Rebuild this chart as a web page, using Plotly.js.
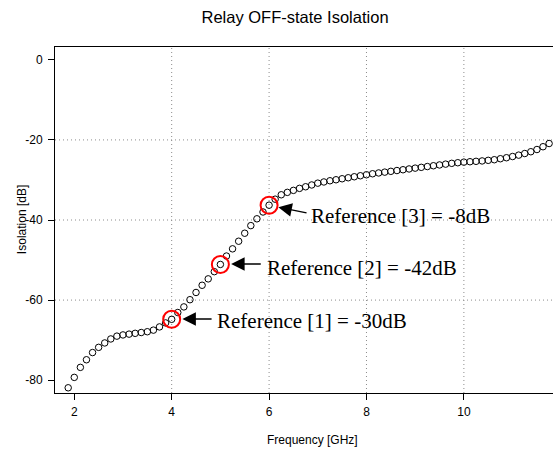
<!DOCTYPE html>
<html>
<head>
<meta charset="utf-8">
<script src="https://cdn.plot.ly/plotly-3.0.1.min.js"></script>
<style>html,body{margin:0;padding:0;background:#fff;}#chart{width:553px;height:451px;}</style>
</head>
<body>
<div id="chart"></div>
<script>
// Frequency [GHz]
const freq = [1.875,2.000,2.125,2.250,2.375,2.500,2.625,2.750,2.875,3.000,
  3.125,3.250,3.375,3.500,3.625,3.750,3.875,4.000,4.125,4.250,
  4.375,4.500,4.625,4.750,4.875,5.000,5.125,5.250,5.375,5.500,
  5.625,5.750,5.875,6.000,6.125,6.250,6.375,6.500,6.625,6.750,
  6.875,7.000,7.125,7.250,7.375,7.500,7.625,7.750,7.875,8.000,
  8.125,8.250,8.375,8.500,8.625,8.750,8.875,9.000,9.125,9.250,
  9.375,9.500,9.625,9.750,9.875,10.000,10.125,10.250,10.375,10.500,
  10.625,10.750,10.875,11.000,11.125,11.250,11.375,11.500,11.625,11.750];
// Isolation [dB]
const isolation = [-81.9,-79.3,-76.8,-74.9,-73.1,-71.8,-70.7,-69.7,-69.0,-68.7,
  -68.5,-68.3,-68.1,-67.9,-67.5,-66.7,-65.7,-64.8,-63.1,-61.7,
  -59.9,-58.1,-56.3,-54.7,-52.9,-51.1,-49.0,-47.2,-45.3,-43.3,
  -41.4,-39.7,-38.0,-36.3,-34.8,-33.7,-33.1,-32.6,-32.1,-31.7,
  -31.25,-30.8,-30.5,-30.2,-29.95,-29.7,-29.45,-29.2,-28.95,-28.7,
  -28.45,-28.25,-28.05,-27.85,-27.65,-27.45,-27.25,-27.05,-26.85,-26.65,
  -26.45,-26.25,-26.05,-25.85,-25.7,-25.55,-25.45,-25.35,-25.25,-25.1,
  -24.95,-24.7,-24.45,-24.15,-23.8,-23.4,-22.95,-22.4,-21.7,-20.9];
// Reference markers
const refFreq = [4, 5, 6];
const refIso = [-64.8, -51.1, -36.3];
const refLabels = ["Reference [1] = -30dB", "Reference [2] = -42dB", "Reference [3] = -8dB"];
// Arrow head / tail / label anchors (data coords)
const arrowHeadX = [4.22, 5.22, 6.19];
const arrowHeadY = [-64.75, -51.0, -36.8];
const arrowTailX = [4.85, 5.86, 6.80];
const arrowTailY = [-64.75, -51.0, -38.3];
const labelX = [4.88, 5.91, 6.82];
const labelY = [-65.2, -52.0, -39.0];
// Grid positions
const gridX = [4, 6, 8, 10];
const gridY = [-20, -40, -60];
const xTicks = [2, 4, 6, 8, 10];
const yTicks = [0, -20, -40, -60, -80];

const traces = [
  {x: freq, y: isolation, type: 'scatter', mode: 'markers',
   marker: {symbol: 'circle-open', size: 6.5, color: '#000', line: {width: 1, color: '#000'}},
   hoverinfo: 'x+y', showlegend: false},
  {x: refFreq, y: refIso, type: 'scatter', mode: 'markers',
   marker: {symbol: 'circle-open', size: 17, color: '#ff0000', line: {width: 2, color: '#ff0000'}},
   showlegend: false}
];

const shapes = [];
gridX.forEach(v => shapes.push({type: 'line', xref: 'x', yref: 'paper', x0: v, x1: v, y0: 0, y1: 1,
  layer: 'below', line: {color: '#8c8c8c', width: 1, dash: '1px,3px'}}));
gridY.forEach(v => shapes.push({type: 'line', xref: 'paper', yref: 'y', x0: 0, x1: 1, y0: v, y1: v,
  layer: 'below', line: {color: '#8c8c8c', width: 1, dash: '1px,3px'}}));

const annotations = [];
for (let i = 0; i < refFreq.length; i++) {
  annotations.push({x: arrowHeadX[i], y: arrowHeadY[i], xref: 'x', yref: 'y',
    ax: arrowTailX[i], ay: arrowTailY[i], axref: 'x', ayref: 'y', text: '',
    showarrow: true, arrowhead: 2, arrowsize: 1.8, arrowwidth: 1.5, arrowcolor: '#000'});
  annotations.push({x: labelX[i], y: labelY[i], xref: 'x', yref: 'y', text: refLabels[i],
    showarrow: false, xanchor: 'left', yanchor: 'middle',
    font: {family: 'Liberation Serif, Times New Roman, serif', size: 21, color: '#000'}});
}
annotations.push({text: 'Frequency [GHz]', xref: 'paper', yref: 'paper', x: 0.518, y: -0.136,
  xanchor: 'center', yanchor: 'middle', showarrow: false,
  font: {family: 'Liberation Sans, Arial, sans-serif', size: 12, color: '#000'}});
annotations.push({text: 'Isolation [dB]', xref: 'paper', yref: 'paper', x: -0.066, y: 0.5,
  xanchor: 'center', yanchor: 'middle', textangle: -90, showarrow: false,
  font: {family: 'Liberation Sans, Arial, sans-serif', size: 12, color: '#000'}});

const layout = {
  width: 553, height: 451,
  margin: {l: 55, r: 0, t: 47, b: 58, pad: 0},
  paper_bgcolor: '#fff', plot_bgcolor: '#fff',
  title: {text: 'Relay OFF-state Isolation', xref: 'container', yref: 'container',
    x: 0.5335, y: 0.962, xanchor: 'center', yanchor: 'middle',
    font: {family: 'Liberation Sans, Arial, sans-serif', size: 16.5, color: '#000'}},
  xaxis: {range: [1.604, 11.83], tickvals: xTicks, ticktext: xTicks.map(String),
    ticks: 'outside', ticklen: 6, tickwidth: 1, tickcolor: '#000',
    showline: true, linecolor: '#000', linewidth: 1, mirror: true,
    showgrid: false, zeroline: false, ticklabelstandoff: 2,
    tickfont: {family: 'Liberation Sans, Arial, sans-serif', size: 12, color: '#000'}},
  yaxis: {range: [-83.2, 3.2], tickvals: yTicks, ticktext: yTicks.map(String),
    ticks: 'outside', ticklen: 6, tickwidth: 1, tickcolor: '#000',
    showline: true, linecolor: '#000', linewidth: 1, mirror: false,
    showgrid: false, zeroline: false, ticklabelstandoff: 3,
    tickfont: {family: 'Liberation Sans, Arial, sans-serif', size: 12, color: '#000'}},
  shapes: shapes,
  annotations: annotations,
  showlegend: false
};

Plotly.newPlot('chart', traces, layout, {displayModeBar: false, staticPlot: true});
</script>
</body>
</html>
